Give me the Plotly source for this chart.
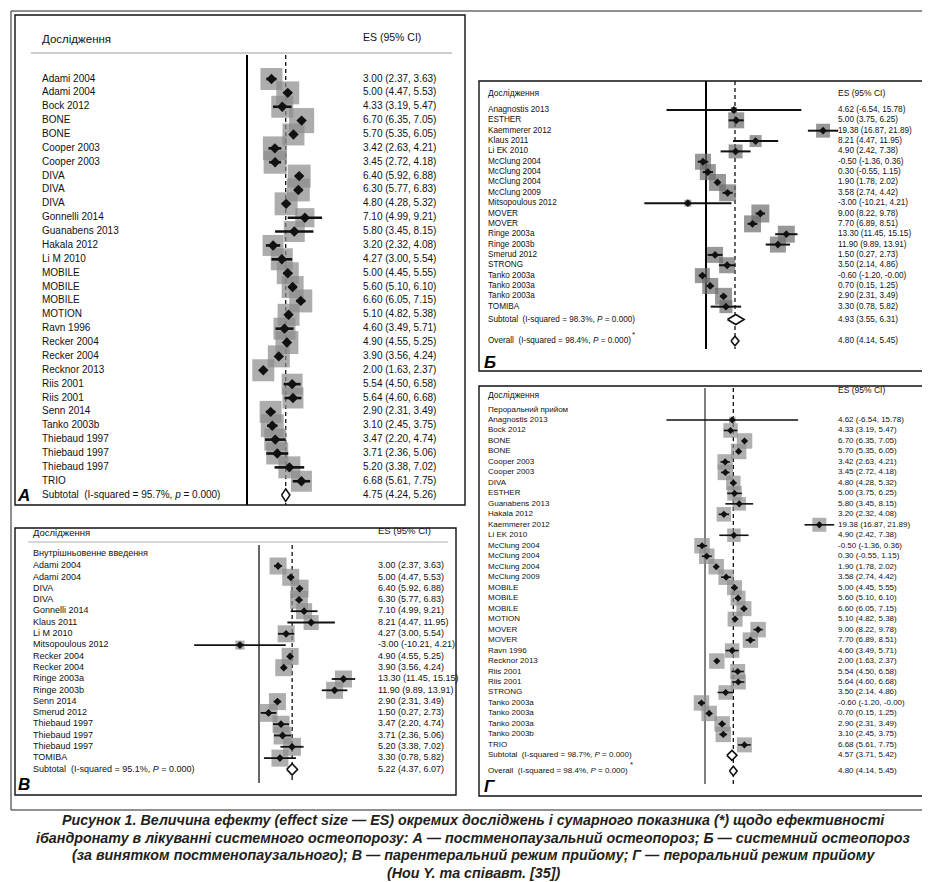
import plotly.graph_objects as go

W, H = 930, 882

# ---------------- DATA ----------------
A_names = ["Adami 2004", "Adami 2004", "Bock 2012", "BONE", "BONE", "Cooper 2003", "Cooper 2003",
           "DIVA", "DIVA", "DIVA", "Gonnelli 2014", "Guanabens 2013", "Hakala 2012", "Li M 2010",
           "MOBILE", "MOBILE", "MOBILE", "MOTION", "Ravn 1996", "Recker 2004", "Recker 2004",
           "Recknor 2013", "Riis 2001", "Riis 2001", "Senn 2014", "Tanko 2003b", "Thiebaud 1997",
           "Thiebaud 1997", "Thiebaud 1997", "TRIO"]
A_es = [3.00, 5.00, 4.33, 6.70, 5.70, 3.42, 3.45, 6.40, 6.30, 4.80, 7.10, 5.80, 3.20, 4.27,
        5.00, 5.60, 6.60, 5.10, 4.60, 4.90, 3.90, 2.00, 5.54, 5.64, 2.90, 3.10, 3.47, 3.71, 5.20, 6.68]
A_lo = [2.37, 4.47, 3.19, 6.35, 5.35, 2.63, 2.72, 5.92, 5.77, 4.28, 4.99, 3.45, 2.32, 3.00,
        4.45, 5.10, 6.05, 4.82, 3.49, 4.55, 3.56, 1.63, 4.50, 4.60, 2.31, 2.45, 2.20, 2.36, 3.38, 5.61]
A_hi = [3.63, 5.53, 5.47, 7.05, 6.05, 4.21, 4.18, 6.88, 6.83, 5.32, 9.21, 8.15, 4.08, 5.54,
        5.55, 6.10, 7.15, 5.38, 5.71, 5.25, 4.24, 2.37, 6.58, 6.68, 3.49, 3.75, 4.74, 5.06, 7.02, 7.75]
A_w = [3.3, 3.6, 3.3, 4.3, 3.3, 3.9, 3.6, 3.6, 3.6, 3.6, 2.5, 3.0, 3.0, 3.3, 3.3, 3.3, 3.6, 3.3,
       3.3, 3.6, 3.3, 3.3, 3.0, 3.0, 3.3, 3.6, 3.3, 3.3, 3.3, 3.0]
A_sub = (4.75, 4.24, 5.26)

B_names = ["Anagnostis 2013", "ESTHER", "Kaemmerer 2012", "Klaus 2011", "Li EK 2010", "McClung 2004",
           "McClung 2004", "McClung 2004", "McClung 2009", "Mitsopoulous 2012", "MOVER", "MOVER",
           "Ringe 2003a", "Ringe 2003b", "Smerud 2012", "STRONG", "Tanko 2003a", "Tanko 2003a",
           "Tanko 2003a", "TOMIBA"]
B_es = [4.62, 5.00, 19.38, 8.21, 4.90, -0.50, 0.30, 1.90, 3.58, -3.00, 9.00, 7.70, 13.30, 11.90,
        1.50, 3.50, -0.60, 0.70, 2.90, 3.30]
B_lo = [-6.54, 3.75, 16.87, 4.47, 2.42, -1.36, -0.55, 1.78, 2.74, -10.21, 8.22, 6.89, 11.45, 9.89,
        0.27, 2.14, -1.20, 0.15, 2.31, 0.78]
B_hi = [15.78, 6.25, 21.89, 11.95, 7.38, 0.36, 1.15, 2.02, 4.42, 4.21, 9.78, 8.51, 15.15, 13.91,
        2.73, 4.86, -0.00, 1.25, 3.49, 5.82]
B_w = [0.7, 5.0, 3.8, 2.8, 3.8, 5.0, 5.0, 5.6, 5.6, 0.9, 6.3, 5.6, 5.6, 5.0, 5.0, 5.0, 4.4, 5.0, 5.6, 3.3]
B_sub = (4.93, 3.55, 6.31)
B_all = (4.80, 4.14, 5.45)

V_names = ["Adami 2004", "Adami 2004", "DIVA", "DIVA", "Gonnelli 2014", "Klaus 2011", "Li M 2010",
           "Mitsopoulous 2012", "Recker 2004", "Recker 2004", "Ringe 2003a", "Ringe 2003b",
           "Senn 2014", "Smerud 2012", "Thiebaud 1997", "Thiebaud 1997", "Thiebaud 1997", "TOMIBA"]
V_es = [3.00, 5.00, 6.40, 6.30, 7.10, 8.21, 4.27, -3.00, 4.90, 3.90, 13.30, 11.90, 2.90, 1.50,
        3.47, 3.71, 5.20, 3.30]
V_lo = [2.37, 4.47, 5.92, 5.77, 4.99, 4.47, 3.00, -10.21, 4.55, 3.56, 11.45, 9.89, 2.31, 0.27,
        2.20, 2.36, 3.38, 0.78]
V_hi = [3.63, 5.53, 6.88, 6.83, 9.21, 11.95, 5.54, 4.21, 5.25, 4.24, 15.15, 13.91, 3.49, 2.73,
        4.74, 5.06, 7.02, 5.82]
V_w = [5.6, 5.6, 6.2, 6.2, 5.0, 4.4, 5.6, 1.6, 5.6, 5.6, 5.6, 5.6, 5.6, 6.2, 5.6, 6.2, 6.2, 5.6]
V_sub = (5.22, 4.37, 6.07)

G_names = ["Anagnostis 2013", "Bock 2012", "BONE", "BONE", "Cooper 2003", "Cooper 2003", "DIVA",
           "ESTHER", "Guanabens 2013", "Hakala 2012", "Kaemmerer 2012", "Li EK 2010", "McClung 2004",
           "McClung 2004", "McClung 2004", "McClung 2009", "MOBILE", "MOBILE", "MOBILE", "MOTION",
           "MOVER", "MOVER", "Ravn 1996", "Recknor 2013", "Riis 2001", "Riis 2001", "STRONG",
           "Tanko 2003a", "Tanko 2003a", "Tanko 2003a", "Tanko 2003b", "TRIO"]
G_es = [4.62, 4.33, 6.70, 5.70, 3.42, 3.45, 4.80, 5.00, 5.80, 3.20, 19.38, 4.90, -0.50, 0.30, 1.90,
        3.58, 5.00, 5.60, 6.60, 5.10, 9.00, 7.70, 4.60, 2.00, 5.54, 5.64, 3.50, -0.60, 0.70, 2.90,
        3.10, 6.68]
G_lo = [-6.54, 3.19, 6.35, 5.35, 2.63, 2.72, 4.28, 3.75, 3.45, 2.32, 16.87, 2.42, -1.36, -0.55, 1.78,
        2.74, 4.45, 5.10, 6.05, 4.82, 8.22, 6.89, 3.49, 1.63, 4.50, 4.60, 2.14, -1.20, 0.15, 2.31,
        2.45, 5.61]
G_hi = [15.78, 5.47, 7.05, 6.05, 4.21, 4.18, 5.32, 6.25, 8.15, 4.08, 21.89, 7.38, 0.36, 1.15, 2.02,
        4.42, 5.55, 6.10, 7.15, 5.38, 9.78, 8.51, 5.71, 2.37, 6.58, 6.68, 4.86, -0.00, 1.25, 3.49,
        3.75, 7.75]
G_w = [0.6, 2.9, 3.3, 3.3, 3.3, 3.3, 2.9, 2.9, 2.5, 2.9, 2.7, 2.5, 3.3, 3.3, 3.3, 3.3, 3.1, 3.1, 3.1,
       3.1, 3.3, 3.3, 2.9, 3.3, 3.1, 3.1, 2.9, 3.3, 3.3, 3.3, 3.3, 3.1]
G_sub = (4.57, 3.71, 5.42)
G_all = (4.80, 4.14, 5.45)

HEAD = "Дослідження"
ES_HEAD = "ES (95% CI)"
CAPTION = [
    "Рисунок 1. Величина ефекту (effect size — ES) окремих досліджень і сумарного показника (*) щодо ефективності",
    "ібандронату в лікуванні системного остеопорозу: А — постменопаузальний остеопороз; Б — системний остеопороз",
    "(за винятком постменопаузального); В — парентеральний режим прийому; Г — пероральний режим прийому",
    "(Hou Y. та співавт. [35])",
]

# ---------------- LAYOUT GEOMETRY (pixels) ----------------
FONT = "Liberation Sans, Arial, sans-serif"
P = {
    "A": dict(ax=1, frame=(7, 7, 457, 497), zx=239, s=8.15, r0=71, sp=13.87, lab=34, esx=355,
              fs=10, box="#8a8a8a", k=12.1, pt=8, ciw=2.6, zero=(47, 497, "black", 2.0),
              dash=(47, 497), letter="A", lpos=(10, 489)),
    "B": dict(ax=2, frame=(471, 73, 922, 363), zx=698, s=6.04, r0=102, sp=10.35, lab=480, esx=830,
              fs=8.2, box="#6c6c6c", k=7.16, pt=6, ciw=2.0, zero=(73, 341, "black", 2.0),
              dash=(73, 341), letter="Б", lpos=(476, 356)),
    "V": dict(ax=3, frame=(7, 520, 448, 787), zx=251, s=6.35, r0=558, sp=11.3, lab=25, esx=370,
              fs=9, box="#8c8c8c", k=7.18, pt=6, ciw=1.8, zero=(537, 775, "black", 1.2),
              dash=(537, 775), letter="В", lpos=(10, 778)),
    "G": dict(ax=4, frame=(471, 378, 922, 788), zx=697, s=5.9, r0=412, sp=10.48, lab=480, esx=830,
              fs=8, box="#8f8f8f", k=8.52, pt=5.5, ciw=1.6, zero=(380, 776, "#555555", 1.5),
              dash=(380, 776), letter="Г", lpos=(476, 780)),
}


def X(p, px):
    return (px - p["zx"]) / p["s"]


def Y(p, py):
    return (py - p["r0"]) / p["sp"]


def fmt(e, l, h):
    return f"{e:.2f} ({l:.2f}, {h:.2f})"


fig = go.Figure()
shapes = []
layout_axes = {}


def axes_for(p):
    i = p["ax"]
    sx = "" if i == 1 else str(i)
    fx0, fy0, fx1, fy1 = p["frame"]
    layout_axes["xaxis" + sx] = dict(domain=[fx0 / W, fx1 / W], anchor="y" + sx,
                                     range=[X(p, fx0), X(p, fx1)], visible=False, fixedrange=True)
    layout_axes["yaxis" + sx] = dict(domain=[1 - fy1 / H, 1 - fy0 / H], anchor="x" + sx,
                                     range=[Y(p, fy1), Y(p, fy0)], visible=False, fixedrange=True)
    return "x" + sx, "y" + sx


def text_trace(xa, ya, xs, ys, texts, size, color="#111111", weight="normal", style="normal"):
    fig.add_trace(go.Scatter(x=xs, y=ys, text=texts, mode="text", textposition="middle right",
                             textfont=dict(family=FONT, size=size, color=color, weight=weight,
                                           style=style),
                             xaxis=xa, yaxis=ya, hoverinfo="skip", showlegend=False, cliponaxis=False))


def panel(key, names, es, lo, hi, w, summaries, overall_line, head_rows, extra_texts):
    p = P[key]
    xa, ya = axes_for(p)
    n = len(names)
    rows = list(range(n))
    fx0, fy0, fx1, fy1 = p["frame"]
    shapes.append(dict(type="rect", xref="paper", yref="paper", x0=fx0 / W, x1=fx1 / W,
                       y0=1 - fy1 / H, y1=1 - fy0 / H, line=dict(color="#111111", width=1.4)))
    # zero line
    z0, z1, zc, zw = p["zero"]
    fig.add_trace(go.Scatter(x=[0, 0], y=[Y(p, z0), Y(p, z1)], mode="lines",
                             line=dict(color=zc, width=zw), xaxis=xa, yaxis=ya,
                             hoverinfo="skip", showlegend=False))
    # dashed line at pooled estimate
    d0, d1 = p["dash"]
    fig.add_trace(go.Scatter(x=[overall_line, overall_line], y=[Y(p, d0), Y(p, d1)], mode="lines",
                             line=dict(color="#111111", width=1.3, dash="4px,3px"), xaxis=xa, yaxis=ya,
                             hoverinfo="skip", showlegend=False))
    # weight boxes
    fig.add_trace(go.Scatter(x=es, y=rows, mode="markers",
                             marker=dict(symbol="square", size=[p["k"] * (v ** 0.5) for v in w],
                                         color=p["box"], line=dict(width=0)),
                             xaxis=xa, yaxis=ya, hoverinfo="skip", showlegend=False))
    # CIs and point estimates
    fig.add_trace(go.Scatter(x=es, y=rows, mode="markers",
                             marker=dict(symbol="diamond", size=p["pt"], color="#111111"),
                             error_x=dict(type="data", symmetric=False,
                                          array=[h - e for e, h in zip(es, hi)],
                                          arrayminus=[e - l for e, l in zip(es, lo)],
                                          thickness=p["ciw"], width=0, color="#111111"),
                             xaxis=xa, yaxis=ya, hoverinfo="skip", showlegend=False))
    # summary diamonds
    for lab, (e, l, h), r, hh in summaries:
        fig.add_trace(go.Scatter(x=[l, e, h, e, l], y=[r, r - hh, r, r + hh, r], mode="lines",
                                 fill="toself", fillcolor="white",
                                 line=dict(color="#111111", width=1.6), xaxis=xa, yaxis=ya,
                                 hoverinfo="skip", showlegend=False))
    # texts
    text_trace(xa, ya, [X(p, p["lab"])] * n, rows, names, p["fs"])
    text_trace(xa, ya, [X(p, p["esx"])] * n, rows, [fmt(*t) for t in zip(es, lo, hi)], p["fs"])
    text_trace(xa, ya, [X(p, p["lab"])] * len(summaries), [s[2] for s in summaries],
               [s[0] for s in summaries], p["fs"])
    text_trace(xa, ya, [X(p, p["esx"])] * len(summaries), [s[2] for s in summaries],
               [fmt(*s[1]) for s in summaries], p["fs"])
    for (tx, ty, t, sz) in head_rows + extra_texts:
        text_trace(xa, ya, [X(p, tx)], [Y(p, ty)], [t], sz)
    lx, ly = p["lpos"]
    text_trace(xa, ya, [X(p, lx)], [Y(p, ly)], [p["letter"]], 17, color="#000000",
               weight="bold", style="italic")


SP2 = "\u00a0\u00a0"

# Panel A
pA = P["A"]
panel("A", A_names, A_es, A_lo, A_hi, A_w,
      [("Subtotal" + SP2 + "(I-squared = 95.7%, <i>p</i> = 0.000)", A_sub, 30, 0.45)],
      A_sub[0],
      [(34, 32, HEAD, 11.5), (355, 30, ES_HEAD, 10.5)], [])
shapes.append(dict(type="line", xref="paper", yref="paper", x0=23 / W, x1=444 / W,
                   y0=1 - 45 / H, y1=1 - 45 / H, line=dict(color="#9a9a9a", width=1)))

# Panel Б
pB = P["B"]
panel("B", B_names, B_es, B_lo, B_hi, B_w,
      [("Subtotal" + SP2 + "(I-squared = 98.3%, <i>P</i> = 0.000)", B_sub, Y(pB, 311.5), 0.48),
       ("Overall" + SP2 + "(I-squared = 98.4%, <i>P</i> = 0.000)", B_all, Y(pB, 333), 0.45)],
      B_all[0],
      [(480, 86, HEAD, 8.5), (830, 86, ES_HEAD, 8.5)], [(624, 327, "*", 8)])

# Panel В
pV = P["V"]
panel("V", V_names, V_es, V_lo, V_hi, V_w,
      [("Subtotal" + SP2 + "(I-squared = 95.1%, <i>P</i> = 0.000)", V_sub, 18, 0.5)],
      V_sub[0],
      [(25, 526, HEAD, 9.5), (370, 524, ES_HEAD, 9.5)],
      [(25, 546, "Внутрішньовенне введення", 9)])
shapes.append(dict(type="line", xref="paper", yref="paper", x0=20 / W, x1=440 / W,
                   y0=1 - 534 / H, y1=1 - 534 / H, line=dict(color="#b0b0b0", width=1)))

# Panel Г
pG = P["G"]
panel("G", G_names, G_es, G_lo, G_hi, G_w,
      [("Subtotal" + SP2 + "(I-squared = 98.7%, <i>P</i> = 0.000)", G_sub, 32, 0.48),
       ("Overall" + SP2 + "(I-squared = 98.4%, <i>P</i> = 0.000)", G_all, Y(pG, 763), 0.45)],
      G_all[0],
      [(480, 388, HEAD, 8.5), (830, 383, ES_HEAD, 8.5)],
      [(480, 402, "Пероральний прийом", 8), (622, 757, "*", 8)])

# outer frame
shapes.append(dict(type="rect", xref="paper", yref="paper", x0=3 / W, x1=927 / W,
                   y0=1 - 802 / H, y1=1 - 3 / H, line=dict(color="#222222", width=1)))

annotations = []
cap_y = [812, 829.5, 847, 864.5]
for t, cy in zip(CAPTION, cap_y):
    annotations.append(dict(text=t, x=0.5, y=1 - cy / H, xref="paper", yref="paper",
                            xanchor="center", yanchor="middle", showarrow=False,
                            font=dict(family="Liberation Sans, Arial, sans-serif",
                                      size=14.3, color="#231f20", weight="bold", style="italic")))

fig.update_layout(width=W, height=H, margin=dict(l=0, r=0, t=0, b=0), autosize=False,
                  paper_bgcolor="white", plot_bgcolor="rgba(0,0,0,0)", shapes=shapes,
                  annotations=annotations, showlegend=False, **layout_axes)

fig.write_html("out.html")
